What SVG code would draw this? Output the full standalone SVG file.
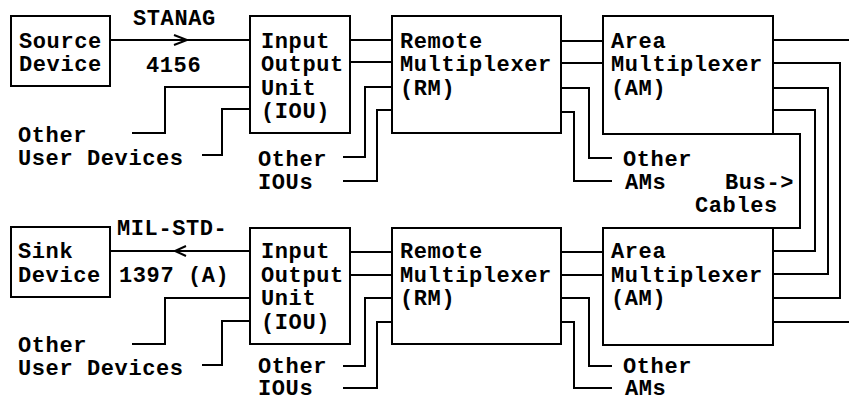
<svg xmlns="http://www.w3.org/2000/svg" width="849" height="402" viewBox="0 0 849 402">
<style>
.box{fill:none;stroke:#000;stroke-width:2}
.ln{fill:none;stroke:#000;stroke-width:2}
text{font-family:"Liberation Mono","Courier New",monospace;font-weight:bold;font-size:22px;letter-spacing:0.6px;fill:#000}
</style>
<rect width="849" height="402" fill="#fff"/>
<g id="source-device"><rect class="box" x="11" y="16" width="99" height="70"/><text x="19" y="48">Source</text><text x="19" y="71">Device</text></g>
<g id="iou-top"><rect class="box" x="250" y="16" width="100" height="117"/><text x="261" y="48">Input</text><text x="261" y="71">Output</text><text x="261" y="95">Unit</text><text x="261" y="118">(IOU)</text></g>
<g id="rm-top"><rect class="box" x="392" y="16" width="169" height="117"/><text x="400" y="48">Remote</text><text x="400" y="71">Multiplexer</text><text x="400" y="95">(RM)</text></g>
<g id="am-top"><rect class="box" x="603" y="16" width="170" height="118"/><text x="611" y="48">Area</text><text x="611" y="71">Multiplexer</text><text x="611" y="95">(AM)</text></g>
<g id="sink-device"><rect class="box" x="11" y="227" width="99" height="70"/><text x="18" y="258">Sink</text><text x="18" y="282">Device</text></g>
<g id="iou-bottom"><rect class="box" x="250" y="228" width="100" height="116"/><text x="261" y="258">Input</text><text x="261" y="282">Output</text><text x="261" y="305">Unit</text><text x="261" y="329">(IOU)</text></g>
<g id="rm-bottom"><rect class="box" x="392" y="228" width="169" height="116"/><text x="400" y="258">Remote</text><text x="400" y="282">Multiplexer</text><text x="400" y="305">(RM)</text></g>
<g id="am-bottom"><rect class="box" x="603" y="228" width="170" height="117"/><text x="611" y="258">Area</text><text x="611" y="282">Multiplexer</text><text x="611" y="305">(AM)</text></g>
<g id="labels">
<text x="133" y="25">STANAG</text><text x="146" y="72">4156</text>
<text x="18" y="142">Other</text><text x="18" y="165">User Devices</text>
<text x="258" y="166">Other</text><text x="258" y="189">IOUs</text>
<text x="623" y="166">Other</text><text x="625" y="189">AMs</text>
<text x="725" y="189">Bus-&gt;</text><text x="695" y="212">Cables</text>
<text x="117" y="235">MIL-STD-</text><text x="119" y="282">1397 (A)</text>
<text x="18" y="352">Other</text><text x="18" y="375">User Devices</text>
<text x="258" y="373">Other</text><text x="258" y="395">IOUs</text>
<text x="623" y="373">Other</text><text x="625" y="395">AMs</text>
</g>
<g id="connectors">
<path class="ln" d="M110,40 H250"/><path class="ln" d="M174,35 L187,40 L174,45"/>
<path class="ln" d="M132,133 H165 V87 H250"/>
<path class="ln" d="M202,155 H222 V109 H250"/>
<path class="ln" d="M350,40 H392 M350,62 H392"/>
<path class="ln" d="M343,157 H365 V87 H392"/>
<path class="ln" d="M343,181 H377 V110 H392"/>
<path class="ln" d="M561,41 H603 M561,63 H603"/>
<path class="ln" d="M561,88 H589 V158 H612"/>
<path class="ln" d="M561,112 H574 V181 H612"/>
<path class="ln" d="M773,40 H849"/>
<path class="ln" d="M773,63 H840 V298 H773"/>
<path class="ln" d="M773,88 H828 V274 H773"/>
<path class="ln" d="M773,110 H815 V251 H773"/>
<path class="ln" d="M773,134 H800 V228 H773"/>
<path class="ln" d="M110,251 H250"/><path class="ln" d="M186,246 L175,251 L186,256"/>
<path class="ln" d="M132,344 H165 V298 H250"/>
<path class="ln" d="M202,365 H222 V321 H250"/>
<path class="ln" d="M350,252 H392 M350,275 H392"/>
<path class="ln" d="M343,366 H365 V298 H392"/>
<path class="ln" d="M343,388 H377 V322 H392"/>
<path class="ln" d="M561,252 H603 M561,275 H603"/>
<path class="ln" d="M561,298 H589 V366 H612"/>
<path class="ln" d="M561,322 H574 V388 H612"/>
<path class="ln" d="M773,322 H849"/>
</g>
</svg>
